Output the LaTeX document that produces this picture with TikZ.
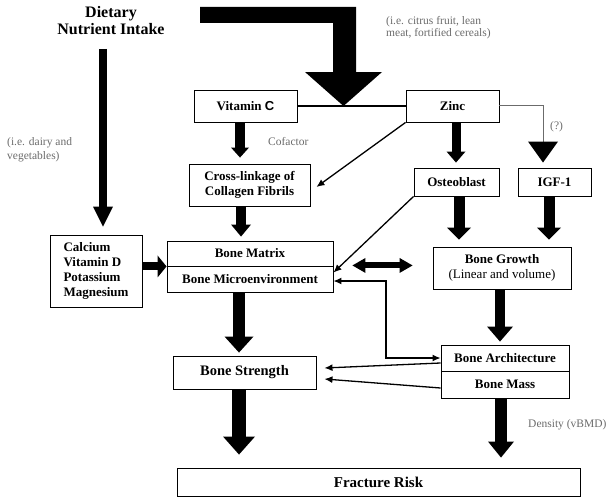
\documentclass[tikz,border=0pt]{standalone}
\usepackage{fontspec}
\setmainfont{Liberation Serif}
\newfontfamily\sansfam{Liberation Sans}
\usetikzlibrary{arrows.meta}
\definecolor{greytxt}{gray}{0.42}
\begin{document}
\begin{tikzpicture}[x=1pt,y=-1pt,
  box/.style={draw=black,line width=0.9pt,inner sep=0pt,align=center,
    font=\fontsize{13}{15}\selectfont\bfseries},
  note/.style={text=greytxt,inner sep=0pt,align=left,anchor=west,
    font=\fontsize{11.5}{12.5}\selectfont},
  fat/.style n args={3}{line width=#1,-{Triangle[width=#2,length=#3,line width=0pt]}},
  thinarr/.style={line width=1.3pt,-{Latex[length=8pt,width=7pt]}},
  thinboth/.style={line width=1.3pt,{Latex[length=8pt,width=7pt]}-{Latex[length=8pt,width=7pt]}}]
\useasboundingbox (0,0) rectangle (612,503);

% boxes
\node[box,minimum width=103pt,minimum height=32pt] (vitc) at (245.5,106) {Vitamin {\sansfam C}};
\node[box,minimum width=93pt,minimum height=32pt] (zinc) at (452.5,106) {Zinc};
\node[box,minimum width=121pt,minimum height=42pt] (cross) at (249.5,185) {Cross-linkage of\\Collagen Fibrils};
\node[box,minimum width=85pt,minimum height=28pt] (osteo) at (456.5,182) {Osteoblast};
\node[box,minimum width=73pt,minimum height=28pt] (igf) at (554.5,182) {IGF-1};
\node[box,minimum width=92pt,minimum height=72pt,align=left] (calc) at (96,271) {Calcium\\Vitamin D\\Potassium\\Magnesium};
\node[box,minimum width=166pt,minimum height=25pt] (matrix) at (250,253.5) {Bone Matrix};
\node[box,minimum width=166pt,minimum height=26pt] (micro) at (250,279) {Bone Microenvironment};
\node[box,minimum width=138pt,minimum height=42pt] (growth) at (502,268) {Bone Growth\\{\mdseries (Linear and volume)}};
\node[box,minimum width=143pt,minimum height=33pt,font=\fontsize{14.5}{16}\selectfont\bfseries] (strength) at (244.5,372.5) {Bone Strength};
\node[box,minimum width=128pt,minimum height=26pt] (arch) at (505,358) {Bone Architecture};
\node[box,minimum width=128pt,minimum height=27pt] (mass) at (505,384.5) {Bone Mass};
\node[box,minimum width=403pt,minimum height=28pt,font=\fontsize{15}{17}\selectfont\bfseries] (fracture) at (378.5,482) {Fracture Risk};

% texts
\node[inner sep=0pt,align=center,font=\fontsize{16}{17}\selectfont\bfseries] (diet) at (111,20.5) {Dietary\\Nutrient Intake};
\node[note] (citrus) at (386,27.5) {(i.e. citrus fruit, lean\\meat, fortified cereals)};
\node[note,font=\fontsize{11.5}{14}\selectfont] (dairy) at (7,150) {(i.e. dairy and\\vegetables)};
\node[note] (cof) at (268,142) {Cofactor};
\node[note] (q) at (550,127) {(?)};
\node[note] (dens) at (528,425) {Density (vBMD)};

% coordinates
\coordinate (dtop) at (103,49);
\coordinate (bendx) at (386,320);

% big L-shaped arrow
\fill (200,7) -- (356,7) -- (356,72) -- (382,72) -- (343.5,106) -- (305,72)
  -- (333,72) -- (333,23) -- (200,23) -- cycle;

% connectors
\draw[line width=1.3pt] (vitc.east) -- (zinc.west);
\draw[fat={8pt}{20pt}{20pt},shorten >=8pt] (dtop) -- (dtop |- calc.north);
\draw[fat={10pt}{18pt}{10pt},shorten >=6pt] (240,0 |- vitc.south) -- (240,0 |- cross.north);
\draw[fat={10pt}{20pt}{12pt},shorten >=4pt] (241,0 |- cross.south) -- (241,0 |- matrix.north);
\draw[fat={9pt}{19pt}{11pt},shorten >=5pt] (456,0 |- zinc.south) -- (456,0 |- osteo.north);
\draw[greytxt,line width=0.8pt,-{Triangle[width=30pt,length=21pt,line width=0pt,color=black]},shorten >=5pt]
  ([yshift=1pt]zinc.east) -| (543,0 |- igf.north);
\draw[fat={11pt}{24pt}{12pt},shorten >=7pt] (459,0 |- osteo.south) -- (459,0 |- growth.north);
\draw[fat={11pt}{24pt}{12pt},shorten >=7pt] (549,0 |- igf.south) -- (549,0 |- growth.north);
\draw[fat={8pt}{22pt}{9pt}] (calc.east |- matrix.south) -- (matrix.south west);
\draw[line width=6pt,{Triangle[width=15pt,length=13pt,line width=0pt]}-{Triangle[width=15pt,length=13pt,line width=0pt]},
  shorten <=19pt,shorten >=20pt] ([yshift=1pt]matrix.south east) -- ([yshift=1pt]growth.west |- matrix.south);
\draw[thinarr] (zinc.south west) -- ([xshift=6pt,yshift=-2pt]cross.east);
\draw[thinarr] (osteo.south west) -- ([yshift=-7pt]micro.north east);
\draw[thinboth] ([yshift=-2pt]micro.east) -| (bendx) |- (arch.west);
\draw[fat={12pt}{29pt}{16pt},shorten >=3pt] (239,0 |- micro.south) -- (239,0 |- strength.north);
\draw[fat={10pt}{26pt}{15pt},shorten >=3pt] (500,0 |- growth.south) -- (500,0 |- arch.north);
\draw[thinarr] ([yshift=-5pt]arch.west) -- ([xshift=8pt,yshift=4.5pt]strength.east);
\draw[thinarr] ([yshift=-3.5pt]mass.west) -- ([xshift=8pt,yshift=-6.5pt]strength.east);
\draw[fat={14pt}{32pt}{18pt},shorten >=13pt] (239,0 |- strength.south) -- (239,0 |- fracture.north);
\draw[fat={12pt}{26pt}{16pt},shorten >=10pt] (501,0 |- mass.south) -- (501,0 |- fracture.north);
\end{tikzpicture}
\end{document}
